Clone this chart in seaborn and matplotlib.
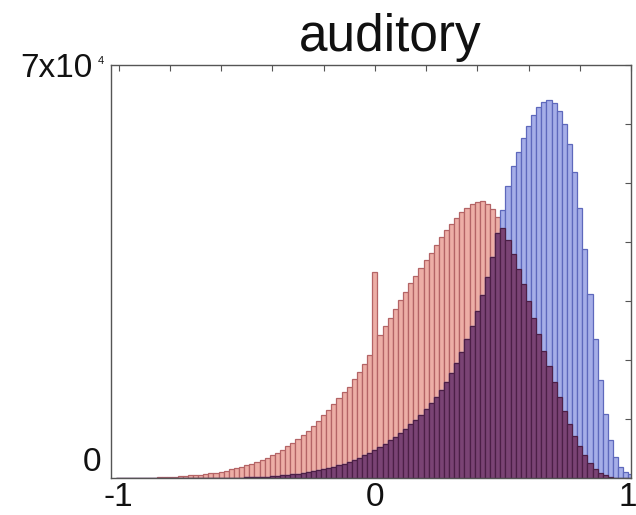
import numpy as np
import pandas as pd
import matplotlib
matplotlib.use("Agg")
import matplotlib.pyplot as plt
import matplotlib.transforms as mtransforms
import seaborn as sns

# ---------------- data ----------------
bin_centers = np.linspace(-1.0, 1.0, 101)   # histogram bin centres, step 0.02

red_counts = [
    0, 0, 0, 10, 20, 30,
    50, 80, 110, 150, 190,
    240, 300, 360, 430, 500,
    580, 680, 800, 930, 1080,
    1250, 1450, 1680, 1920, 2180,
    2450, 2750, 3080, 3450, 3850,
    4300, 4800, 5350, 5950, 6600,
    7300, 8050, 8850, 9700, 10600,
    11550, 12550, 13500, 14500, 15500,
    16700, 18000, 19400, 20900,
    35000,
    24200, 25700, 27200, 28700, 30200,
    31600, 33000, 34300, 35600, 36900,
    38200, 39500, 40800, 42000, 43100,
    44100, 45000, 45800, 46400, 46800,
    46900, 46500, 45600, 44200, 42400,
    40300, 38000, 35500, 32800, 30000,
    27200, 24400, 21600, 18900, 16300,
    13800, 11400, 9200, 7200, 5400,
    3900, 2600, 1600, 900, 450,
    200, 80, 30, 10, 0,
]

blue_counts = [
    0, 0, 0, 0, 0, 0, 0, 0, 0, 0,
    0, 0, 0, 0, 0, 4, 6, 9, 12, 15,
    20, 28, 38, 50, 65, 85, 110, 140, 180, 235,
    300, 360, 430, 510, 600, 700, 820, 960, 1120, 1300,
    1500, 1700, 1930, 2180, 2450, 2750, 3080, 3450, 3850, 4280,
    4750, 5250, 5800, 6400, 7000, 7650, 8350, 9100, 9900, 10750,
    11700, 12700, 13800, 15000, 16300, 17800, 19500, 21400, 23500, 25800,
    28300, 31000, 34000, 37500, 41500, 45500, 49500, 52800, 55300, 57600,
    59700, 61500, 62900, 63800, 64100, 63600, 62200, 60000, 56600, 51800,
    45800, 38800, 31200, 23600, 16600, 10800, 6400, 3500, 1800, 1000,
    700,
]

overlap_counts = np.minimum(red_counts, blue_counts)

title_text = "auditory"
xtick_labels = {-1.0: "-1", 0.0: "0", 1.0: "1"}
ytick_top_label = "7x10"
ytick_top_exponent = "4"

df = pd.DataFrame({
    "value": bin_centers,
    "red": red_counts,
    "blue": blue_counts,
    "overlap": overlap_counts,
})

# ---------------- style ----------------
sns.set_style("white")
plt.rcParams["font.family"] = ["Liberation Sans", "DejaVu Sans"]

fig = plt.figure(figsize=(6.36, 5.15), dpi=100)
ax = fig.add_axes([111 / 636, 1 - 478 / 515, 520 / 636, (478 - 65) / 515])

common = dict(data=df, x="value", binwidth=0.02, binrange=(-1.01, 1.01),
              stat="count", element="bars", fill=True,
              alpha=1.0, linewidth=0.9, ax=ax)
sns.histplot(weights="red", color="#EDAEA6", edgecolor="#B46466", **common)
sns.histplot(weights="blue", color="#A6AEE8", edgecolor="#5E68BC", **common)
sns.histplot(weights="overlap", color="#7A4374", edgecolor="#4C1F46", **common)

ax.set_xlabel("")
ax.set_ylabel("")

# ticks
xt = np.round(np.arange(-1.0, 1.01, 0.2), 2)
ax.set_xticks(xt)
ax.set_xticklabels([xtick_labels.get(round(float(v), 2), "") for v in xt])
ax.set_xlim(-1.03, 1.0)
yt = list(range(0, 70001, 10000))
ax.set_yticks(yt)
ax.set_yticklabels(["0"] + [""] * 6 + [ytick_top_label])
ax.set_ylim(0, 70000)
ax.tick_params(axis="both", direction="in", length=4, width=0.8,
               colors="#555555", labelcolor="#111111", labelsize=24,
               top=True, right=True)
ax.tick_params(axis="x", pad=3)
ax.tick_params(axis="y", pad=7)

ylabels = ax.get_yticklabels()
ylabels[0].set_va("bottom")
ylabels[-1].set_transform(ylabels[-1].get_transform() +
                          mtransforms.ScaledTranslation(-9 / 100, 0, fig.dpi_scale_trans))
xlabels = ax.get_xticklabels()
xlabels[-1].set_transform(xlabels[-1].get_transform() +
                          mtransforms.ScaledTranslation(-3 / 100, 0, fig.dpi_scale_trans))

# small exponent of the top y label
fig.text(100.5 / 636, 1 - 61 / 515, ytick_top_exponent, ha="center", va="center",
         fontsize=8, color="#111111")

for s in ax.spines.values():
    s.set_color("#555555")
    s.set_linewidth(1.0)

fig.text(390 / 636, 1 - 38 / 515, title_text, ha="center", va="center",
         fontsize=37, color="#111111")

fig.savefig("out.png", dpi=100, facecolor="white")
